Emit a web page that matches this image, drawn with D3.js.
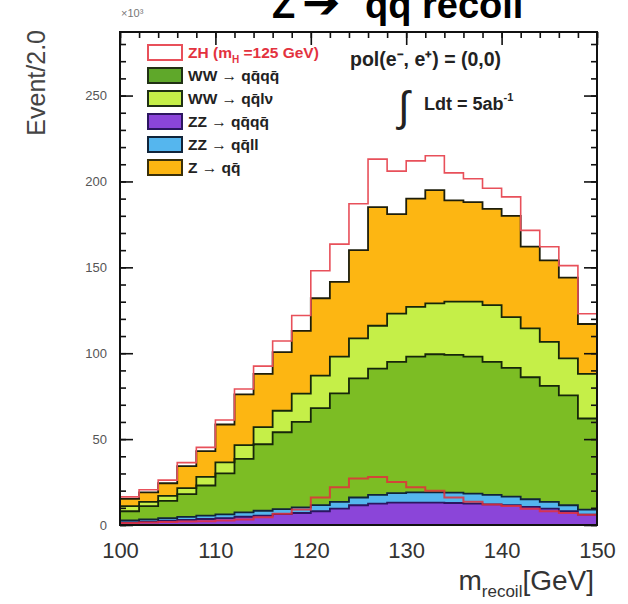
<!DOCTYPE html>
<html>
<head>
<meta charset="utf-8">
<script src="https://cdn.jsdelivr.net/npm/d3@7"></script>
<style>
  body { margin: 0; background: #fff; }
  svg { display: block; }
  text { font-family: "Liberation Sans", Arial, Helvetica, sans-serif; }
</style>
</head>
<body>
<svg id="chart" width="628" height="604"></svg>
<script>
// Recoil mass spectrum, bins of 2 GeV, entries in units of 10^3
const massEdges = [100, 102, 104, 106, 108, 110, 112, 114, 116, 118, 120, 122, 124,
                   126, 128, 130, 132, 134, 136, 138, 140, 142, 144, 146, 148];
const binWidth = 2;

// Backgrounds, listed bottom of stack first
const zzQQQQ = [1.5, 2, 2.5, 3, 3.5, 4, 4.8, 5.5, 6.3, 7, 8, 9.5, 11.5, 12.5, 13, 13, 13, 12.8, 12.5, 12, 11.5, 10.5, 9.5, 8, 6];
const zzQQLL = [1.2, 1.3, 1.5, 1.7, 2, 2.2, 2.5, 2.8, 3, 3.3, 3.6, 4, 4.5, 5, 5.5, 6, 6, 6, 5.8, 5.5, 5, 4.5, 4, 3.5, 3];
const wwQQQQ = [5.3, 7.7, 10, 13.3, 17.5, 23.8, 31.2, 38.7, 44.7, 49.7, 56.4, 63.1, 69.3, 73.5, 76.5, 79, 80.4, 80.2, 79.7, 77.5, 75, 71, 67.5, 64, 53];
const wwQQLV = [3, 2.5, 3, 3.5, 5, 6.5, 8, 10, 12.5, 16.5, 19, 21.4, 23.3, 25, 28, 29, 29.6, 31, 32, 33, 29.5, 28.5, 25.6, 21.5, 26];
const zQQ    = [4.2, 5.5, 7.3, 12.8, 15, 22, 29.5, 31, 34.1, 36.5, 45, 43.5, 51.4, 69, 58, 63, 66, 59, 58, 56, 59, 47.5, 47.4, 47, 29];
// Signal
const zhSignal = [1.2, 1.5, 1.8, 2, 2.2, 2.6, 3.2, 4.5, 6.5, 9, 16, 22, 27, 28, 25, 22, 20, 16, 13.6, 12, 11, 9.5, 8, 7, 6];

const xTicks = [100, 110, 120, 130, 140, 150];
const yTicks = [0, 50, 100, 150, 200, 250];

const layers = [
  { key: "zzQQQQ", values: zzQQQQ, fill: "#8b45d9", stroke: "#2c1660" },
  { key: "zzQQLL", values: zzQQLL, fill: "#55b6ee", stroke: "#10243a" },
  { key: "wwQQQQ", values: wwQQQQ, fill: "#7cbd24", stroke: "#16260a" },
  { key: "wwQQLV", values: wwQQLV, fill: "#c5ef48", stroke: "#16260a" },
  { key: "zQQ",    values: zQQ,    fill: "#fdb612", stroke: "#1e1e0a" },
  { key: "zh",     values: zhSignal, fill: "#ffffff", stroke: "#e8505a" }
];

const legendItems = [
  { fill: "#ffffff", stroke: "#e8505a", color: "#e3323e", parts: [["ZH (m", 0], ["H", 1], [" =125 GeV)", 0]] },
  { fill: "#5fa82a", stroke: "#203014", color: "#222", parts: [["WW \u2192 qq\u0304qq\u0304", 0]] },
  { fill: "#c5ef48", stroke: "#203014", color: "#222", parts: [["WW \u2192 qq\u0304l\u03BD", 0]] },
  { fill: "#8b45d9", stroke: "#2c1660", color: "#222", parts: [["ZZ \u2192 qq\u0304qq\u0304", 0]] },
  { fill: "#55b6ee", stroke: "#10243a", color: "#222", parts: [["ZZ \u2192 qq\u0304ll", 0]] },
  { fill: "#fdb612", stroke: "#3a300a", color: "#222", parts: [["Z \u2192  qq\u0304", 0]] }
];

const svg = d3.select("#chart");
const frameLeft = 120, frameRight = 597, frameTop = 32, frameBottom = 525;

const x = d3.scaleLinear().domain([100, 150]).range([frameLeft, frameRight]);
const y = d3.scaleLinear().domain([0, 287]).range([frameBottom, frameTop]);

// Rows for stacking; the extra row closes the last bin at the upper edge
const keys = layers.map(l => l.key);
const rows = massEdges.map((m, i) => {
  const r = { m };
  layers.forEach(l => { r[l.key] = l.values[i]; });
  return r;
});
const lastRow = Object.assign({}, rows[rows.length - 1], { m: massEdges[massEdges.length - 1] + binWidth });
rows.push(lastRow);

const series = d3.stack().keys(keys)(rows);

const area = d3.area()
  .curve(d3.curveStepAfter)
  .x(d => x(d.data.m))
  .y0(d => y(d[0]))
  .y1(d => y(d[1]));

const topLine = d3.line()
  .curve(d3.curveStepAfter)
  .x(d => x(d.data.m))
  .y(d => y(d[1]));

const plot = svg.append("g");

// Stack fills
series.forEach((s, i) => {
  plot.append("path").attr("d", area(s)).attr("fill", layers[i].fill);
});

// Stack outlines
series.forEach((s, i) => {
  plot.append("path")
    .attr("d", topLine(s))
    .attr("fill", "none")
    .attr("stroke", layers[i].stroke)
    .attr("stroke-width", i === series.length - 1 ? 1.6 : 1.8);
});

// Signal alone, overlaid
const signalRows = massEdges.map((m, i) => ({ m, v: zhSignal[i] }));
signalRows.push({ m: massEdges[massEdges.length - 1] + binWidth, v: zhSignal[zhSignal.length - 1] });
plot.append("path")
  .attr("d", d3.line().curve(d3.curveStepAfter).x(d => x(d.m)).y(d => y(d.v))(signalRows))
  .attr("fill", "none")
  .attr("stroke", "#e2303c")
  .attr("stroke-width", 2)
  .attr("opacity", 0.85);

// Axes: ticks point into the frame
const xMinor = d3.range(100, 150.1, 2);
const yMinor = d3.range(0, 287, 10);

function styleAxis(g) {
  g.select(".domain").remove();
  g.selectAll("line").attr("stroke", "#111").attr("stroke-width", 1.6);
}

svg.append("g").attr("transform", `translate(${frameLeft},0)`)
  .call(d3.axisLeft(y).tickValues(yMinor).tickSize(-6).tickFormat(""))
  .call(styleAxis);
svg.append("g").attr("transform", `translate(${frameLeft},0)`)
  .call(d3.axisLeft(y).tickValues(yTicks).tickSizeInner(-13).tickSizeOuter(0).tickPadding(13).tickFormat(d3.format("d")))
  .call(styleAxis)
  .call(g => g.selectAll("text").attr("font-size", 13).attr("fill", "#555").attr("font-family", "Liberation Sans, Arial, sans-serif"));

svg.append("g").attr("transform", `translate(${frameRight},0)`)
  .call(d3.axisRight(y).tickValues(yMinor).tickSize(-6).tickFormat(""))
  .call(styleAxis);
svg.append("g").attr("transform", `translate(${frameRight},0)`)
  .call(d3.axisRight(y).tickValues(yTicks).tickSize(-13).tickFormat(""))
  .call(styleAxis);

svg.append("g").attr("transform", `translate(0,${frameTop})`)
  .call(d3.axisTop(x).tickValues(xMinor).tickSize(-6).tickFormat(""))
  .call(styleAxis);
svg.append("g").attr("transform", `translate(0,${frameTop})`)
  .call(d3.axisTop(x).tickValues(xTicks).tickSize(-13).tickFormat(""))
  .call(styleAxis);

svg.append("g").attr("transform", `translate(0,${frameBottom})`)
  .call(d3.axisBottom(x).tickValues(xTicks).tickSizeInner(0).tickSizeOuter(0).tickPadding(17).tickFormat(d3.format("d")))
  .call(styleAxis)
  .call(g => g.selectAll("text").attr("font-size", 22).attr("fill", "#333").attr("font-family", "Liberation Sans, Arial, sans-serif"));

// Frame
svg.append("rect")
  .attr("x", frameLeft).attr("y", frameTop)
  .attr("width", frameRight - frameLeft).attr("height", frameBottom - frameTop)
  .attr("fill", "none").attr("stroke", "#111").attr("stroke-width", 2);

// Exponent of the y axis
svg.append("text").attr("x", frameLeft + 1).attr("y", 17)
  .attr("font-size", 11).attr("fill", "#777").text("\u00D710\u00B3");

// Axis titles
svg.append("text")
  .attr("transform", "translate(45,30) rotate(-90)")
  .attr("text-anchor", "end")
  .attr("font-size", 25).attr("fill", "#444")
  .text("Event/2.0");

const xTitle = svg.append("text").attr("x", 594).attr("y", 590)
  .attr("text-anchor", "end").attr("font-size", 28).attr("fill", "#333");
xTitle.append("tspan").text("m");
xTitle.append("tspan").attr("font-size", 17).attr("dy", 7).text("recoil");
xTitle.append("tspan").attr("dy", -7).text("[GeV]");

// Title (runs into the top edge of the page)
const title = svg.append("text").attr("y", 18)
  .attr("font-family", "Lato, 'Open Sans', sans-serif")
  .attr("font-weight", "bold").attr("font-size", 38).attr("fill", "#000");
title.append("tspan").attr("x", 272).text("Z");
title.append("tspan").attr("x", 302).attr("font-family", "DejaVu Sans").attr("font-size", 46).text("\u2794");
title.append("tspan").attr("x", 365).text("qq recoil");

// Legend
const legend = svg.append("g");
legendItems.forEach((d, i) => {
  const ly = 45 + i * 23;
  legend.append("rect")
    .attr("x", 148).attr("y", ly).attr("width", 34).attr("height", 15)
    .attr("fill", d.fill).attr("stroke", d.stroke).attr("stroke-width", 2);
  const t = legend.append("text").attr("x", 188).attr("y", ly + 13)
    .attr("font-size", 15.5).attr("font-weight", "bold").attr("fill", d.color);
  d.parts.forEach(([s, sub]) => {
    const ts = t.append("tspan").text(s);
    if (sub) ts.attr("font-size", 10).attr("dy", 5);
    else if (t.selectAll("tspan").size() > 1) ts.attr("dy", -5);
  });
});

// Run conditions
svg.append("text").attr("x", 350).attr("y", 66)
  .attr("font-size", 19.5).attr("font-weight", "bold").attr("fill", "#222")
  .text("pol(e\u207B, e\u207A) = (0,0)");

svg.append("text").attr("x", 398).attr("y", 121)
  .attr("font-family", "DejaVu Sans").attr("font-size", 42).attr("fill", "#222")
  .text("\u222B");
const lumi = svg.append("text").attr("x", 424).attr("y", 110)
  .attr("font-size", 18).attr("font-weight", "bold").attr("fill", "#222");
lumi.append("tspan").text("Ldt = 5ab");
lumi.append("tspan").attr("font-size", 11).attr("dy", -9).text("-1");
</script>
</body>
</html>
